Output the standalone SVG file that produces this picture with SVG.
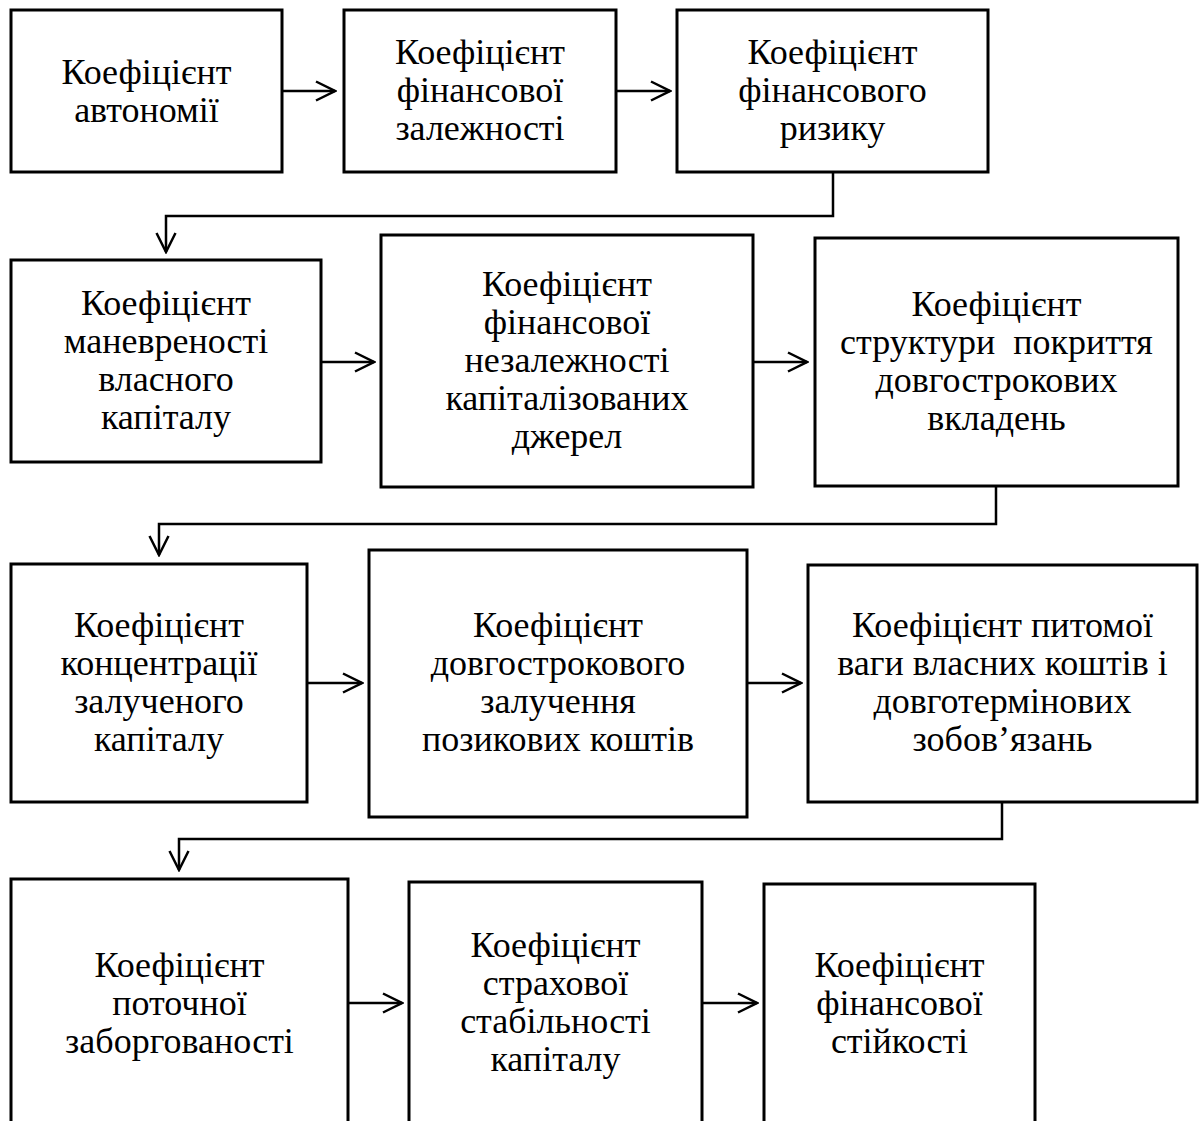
<svg xmlns="http://www.w3.org/2000/svg" width="1199" height="1121" viewBox="0 0 1199 1121">
<style>
.box{fill:#fff;stroke:#000;stroke-width:3}
.t{font-family:"Liberation Serif","Times New Roman",serif;font-size:36px;fill:#000;text-anchor:middle}
.c{fill:none;stroke:#000;stroke-width:2.5}
</style>
<defs>
<marker id="ah" markerUnits="userSpaceOnUse" markerWidth="22" markerHeight="24" viewBox="-1 -2 22 24" refX="19" refY="10" orient="auto">
<path d="M0,0.5 L19,10 L0,19.5" fill="none" stroke="#000" stroke-width="2.5"/>
</marker>
</defs>
<rect width="1199" height="1121" fill="#fff"/>
<g id="connectors">
<path class="c" d="M282,91 H335" marker-end="url(#ah)"/>
<path class="c" d="M616,91 H670" marker-end="url(#ah)"/>
<path class="c" d="M833,172 V216 H166 V252" marker-end="url(#ah)"/>
<path class="c" d="M321,362 H374" marker-end="url(#ah)"/>
<path class="c" d="M753,362 H807" marker-end="url(#ah)"/>
<path class="c" d="M996,486 V524 H159 V555" marker-end="url(#ah)"/>
<path class="c" d="M307,683 H362" marker-end="url(#ah)"/>
<path class="c" d="M747,683 H801" marker-end="url(#ah)"/>
<path class="c" d="M1002,802 V839 H179 V870" marker-end="url(#ah)"/>
<path class="c" d="M348,1003 H402" marker-end="url(#ah)"/>
<path class="c" d="M702,1003 H757" marker-end="url(#ah)"/>
</g>
<g id="n1"><rect class="box" x="11" y="10" width="271" height="162"/>
<text class="t" x="146.5" y="84">Коефіцієнт</text><text class="t" x="146.5" y="122">автономії</text></g>
<g id="n2"><rect class="box" x="344" y="10" width="272" height="162"/>
<text class="t" x="480" y="64">Коефіцієнт</text><text class="t" x="480" y="102">фінансової</text><text class="t" x="480" y="140">залежності</text></g>
<g id="n3"><rect class="box" x="677" y="10" width="311" height="162"/>
<text class="t" x="832.5" y="64">Коефіцієнт</text><text class="t" x="832.5" y="102">фінансового</text><text class="t" x="832.5" y="140">ризику</text></g>
<g id="n4"><rect class="box" x="11" y="260" width="310" height="202"/>
<text class="t" x="166" y="315">Коефіцієнт</text><text class="t" x="166" y="353">маневреності</text><text class="t" x="166" y="391">власного</text><text class="t" x="166" y="429">капіталу</text></g>
<g id="n5"><rect class="box" x="381" y="235" width="372" height="252"/>
<text class="t" x="567" y="296">Коефіцієнт</text><text class="t" x="567" y="334">фінансової</text><text class="t" x="567" y="372">незалежності</text><text class="t" x="567" y="410">капіталізованих</text><text class="t" x="567" y="448">джерел</text></g>
<g id="n6"><rect class="box" x="815" y="238" width="363" height="248"/>
<text class="t" x="996.5" y="316">Коефіцієнт</text><text class="t" x="996.5" y="354" xml:space="preserve">структури  покриття</text><text class="t" x="996.5" y="392">довгострокових</text><text class="t" x="996.5" y="430">вкладень</text></g>
<g id="n7"><rect class="box" x="11" y="564" width="296" height="238"/>
<text class="t" x="159" y="637">Коефіцієнт</text><text class="t" x="159" y="675">концентрації</text><text class="t" x="159" y="713">залученого</text><text class="t" x="159" y="751">капіталу</text></g>
<g id="n8"><rect class="box" x="369" y="550" width="378" height="267"/>
<text class="t" x="558" y="637">Коефіцієнт</text><text class="t" x="558" y="675">довгострокового</text><text class="t" x="558" y="713">залучення</text><text class="t" x="558" y="751">позикових коштів</text></g>
<g id="n9"><rect class="box" x="808" y="565" width="389" height="237"/>
<text class="t" x="1002.5" y="637">Коефіцієнт питомої</text><text class="t" x="1002.5" y="675">ваги власних коштів і</text><text class="t" x="1002.5" y="713">довготермінових</text><text class="t" x="1002.5" y="751">зобов’язань</text></g>
<g id="n10"><rect class="box" x="11" y="879" width="337" height="260"/>
<text class="t" x="179.5" y="977">Коефіцієнт</text><text class="t" x="179.5" y="1015">поточної</text><text class="t" x="179.5" y="1053">заборгованості</text></g>
<g id="n11"><rect class="box" x="409" y="882" width="293" height="260"/>
<text class="t" x="555.5" y="957">Коефіцієнт</text><text class="t" x="555.5" y="995">страхової</text><text class="t" x="555.5" y="1033">стабільності</text><text class="t" x="555.5" y="1071">капіталу</text></g>
<g id="n12"><rect class="box" x="764" y="884" width="271" height="260"/>
<text class="t" x="899.5" y="977">Коефіцієнт</text><text class="t" x="899.5" y="1015">фінансової</text><text class="t" x="899.5" y="1053">стійкості</text></g>
</svg>
